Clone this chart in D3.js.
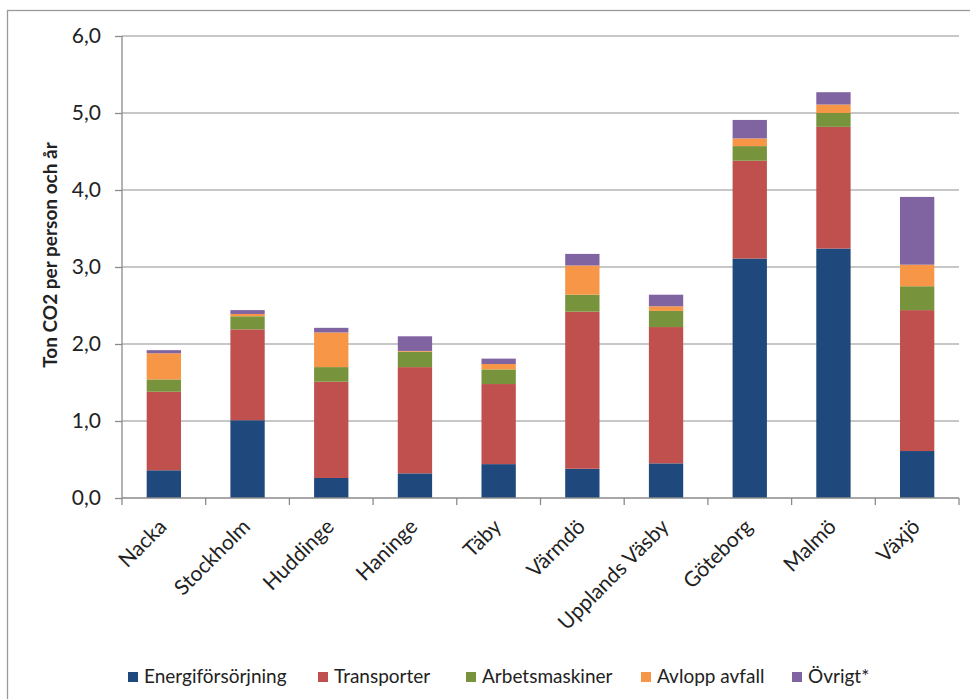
<!DOCTYPE html>
<meta charset="utf-8">
<style>
body { margin: 0; background: #fff; }
text { font-family: Lato, "Open Sans", sans-serif; fill: #222; }
.grid line { stroke: #b5b5b5; stroke-width: 1.3px; }
.axis path, .axis line { stroke: #8a8a8a; stroke-width: 1.3px; }
</style>
<svg width="970" height="699"></svg>
<script src="https://d3js.org/d3.v7.min.js"></script>
<script>

var kommuner = ["Nacka", "Stockholm", "Huddinge", "Haninge", "Täby", "Värmdö", "Upplands Väsby", "Göteborg", "Malmö", "Växjö"];
var serier = ["Energiförsörjning", "Transporter", "Arbetsmaskiner", "Avlopp avfall", "Övrigt*"];
var energi = [0.36, 1.01, 0.26, 0.32, 0.44, 0.38, 0.45, 3.11, 3.24, 0.61];
var transport = [1.02, 1.18, 1.25, 1.38, 1.04, 2.04, 1.77, 1.27, 1.58, 1.83];
var arbetsmaskiner = [0.16, 0.17, 0.19, 0.20, 0.19, 0.22, 0.21, 0.19, 0.18, 0.31];
var avlopp = [0.34, 0.03, 0.45, 0.01, 0.07, 0.38, 0.06, 0.10, 0.11, 0.28];
var ovrigt = [0.04, 0.05, 0.06, 0.19, 0.07, 0.15, 0.15, 0.24, 0.16, 0.88];
var yTicks = [0, 1, 2, 3, 4, 5, 6];
var farger = ["#1f497d", "#c0504d", "#77933c", "#f79646", "#8064a2"];

var svg = d3.select("svg");
var plotL = 122, plotR = 959, plotT = 36, plotB = 498;

// frame round the chart
svg.append("rect")
    .attr("x", 7.5).attr("y", 10.5)
    .attr("width", 980).attr("height", 720)
    .attr("fill", "none")
    .attr("stroke", "#9a9a9a")
    .attr("stroke-width", 1.3);

var x = d3.scaleBand().domain(kommuner).range([plotL, plotR]).padding(0);
var y = d3.scaleLinear().domain([0, 6]).range([plotB, plotT]);
var color = d3.scaleOrdinal().domain(serier).range(farger);

var rows = kommuner.map(function(k, i) {
  return { kommun: k, "Energiförsörjning": energi[i], "Transporter": transport[i],
    "Arbetsmaskiner": arbetsmaskiner[i], "Avlopp avfall": avlopp[i], "Övrigt*": ovrigt[i] };
});
var stacked = d3.stack().keys(serier)(rows);

// gridlines
svg.append("g").attr("class", "grid")
  .selectAll("line").data(yTicks.slice(1)).enter().append("line")
    .attr("x1", plotL).attr("x2", plotR)
    .attr("y1", function(d) { return y(d); })
    .attr("y2", function(d) { return y(d); });

// bars
var barW = x.bandwidth() * 0.41;
svg.append("g").selectAll("g").data(stacked).enter().append("g")
    .attr("fill", function(d) { return color(d.key); })
  .selectAll("rect").data(function(d) { return d; }).enter().append("rect")
    .attr("x", function(d) { return x(d.data.kommun) + (x.bandwidth() - barW) / 2; })
    .attr("width", barW)
    .attr("y", function(d) { return y(d[1]); })
    .attr("height", function(d) { return y(d[0]) - y(d[1]); });

// y axis
var yAxis = svg.append("g").attr("class", "axis")
    .attr("transform", "translate(" + plotL + ",0)")
    .call(d3.axisLeft(y).tickValues(yTicks).tickSize(7).tickPadding(14)
      .tickFormat(function(d) { return d3.format(".1f")(d).replace(".", ","); }));
yAxis.selectAll("text").style("font-size", "21px").attr("fill", "#222");
yAxis.select(".domain").attr("d", "M0," + plotT + "V" + plotB);

// x axis with ticks between the bars
var xAxis = svg.append("g").attr("class", "axis")
    .attr("transform", "translate(0," + plotB + ")");
xAxis.append("line").attr("x1", plotL).attr("x2", plotR);
xAxis.selectAll(".tk").data(kommuner.concat([null])).enter().append("line")
    .attr("class", "tk")
    .attr("x1", function(d, i) { return plotL + i * x.step(); })
    .attr("x2", function(d, i) { return plotL + i * x.step(); })
    .attr("y1", 0).attr("y2", 7);
xAxis.selectAll("text").data(kommuner).enter().append("text")
    .attr("text-anchor", "end")
    .attr("transform", function(d) {
      return "translate(" + (x(d) + x.bandwidth() / 2 + 4) + ",30) rotate(-45)";
    })
    .style("font-size", "21px")
    .text(function(d) { return d; });

// y axis title
svg.append("text")
    .attr("transform", "translate(57," + ((plotT + plotB) / 2 - 12) + ") rotate(-90)")
    .attr("text-anchor", "middle")
    .style("font-size", "19px")
    .style("font-weight", "bold")
    .attr("fill", "#000")
    .text("Ton CO2 per person och år");

// legend
var legendX = [128, 318, 466, 641, 792];
var legend = svg.append("g").selectAll("g").data(serier).enter().append("g")
    .attr("transform", function(d, i) { return "translate(" + legendX[i] + ",672)"; });
legend.append("rect").attr("width", 10).attr("height", 10)
    .attr("fill", function(d) { return color(d); });
legend.append("text").attr("x", 16).attr("y", 11)
    .style("font-size", "19px")
    .text(function(d) { return d; });

</script>
